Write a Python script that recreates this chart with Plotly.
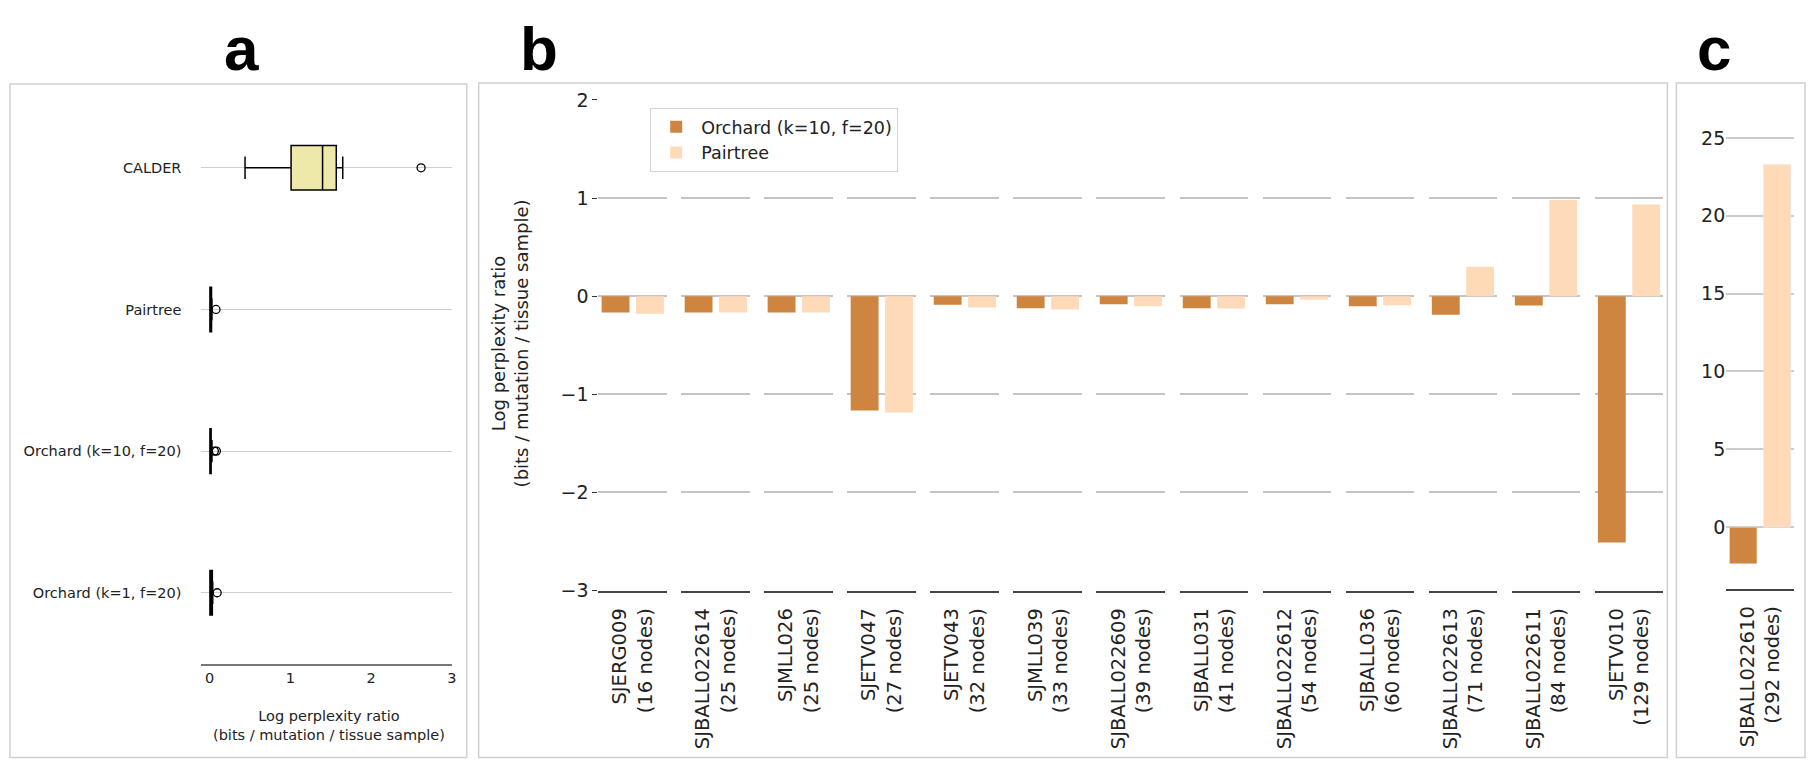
import plotly.graph_objects as go

########## DATA ##########
# panel a: box summaries of log perplexity ratio per method
a_methods = ["CALDER", "Pairtree", "Orchard (k=10, f=20)", "Orchard (k=1, f=20)"]
a_lower = [0.44, 0.005, 0.005, 0.005]
a_q1 = [1.01, 0.005, 0.005, 0.005]
a_median = [1.40, 0.01, 0.01, 0.01]
a_q3 = [1.57, 0.025, 0.02, 0.035]
a_upper = [1.65, 0.03, 0.03, 0.04]
a_outlier_method = ["CALDER", "Pairtree", "Orchard (k=10, f=20)", "Orchard (k=10, f=20)", "Orchard (k=1, f=20)"]
a_outlier_value = [2.62, 0.08, 0.06, 0.085, 0.095]

# panel b: per-sample log perplexity ratio
b_samples = ["SJERG009", "SJBALL022614", "SJMLL026", "SJETV047", "SJETV043", "SJMLL039",
             "SJBALL022609", "SJBALL031", "SJBALL022612", "SJBALL036", "SJBALL022613",
             "SJBALL022611", "SJETV010"]
b_nodes = [16, 25, 25, 27, 32, 33, 39, 41, 54, 60, 71, 84, 129]
b_orchard = [-0.167, -0.167, -0.167, -1.165, -0.088, -0.122, -0.082, -0.122, -0.082,
             -0.102, -0.19, -0.095, -2.51]
b_pairtree = [-0.178, -0.166, -0.166, -1.185, -0.114, -0.136, -0.102, -0.126, -0.037,
              -0.092, 0.30, 0.98, 0.935]

# panel c: the big sample
c_sample = "SJBALL022610"
c_nodes = 292
c_orchard = -2.35
c_pairtree = 23.3

########## LAYOUT HELPERS ##########
W, H = 1820, 769
ORCHARD_COL = "#CD853F"
PAIRTREE_COL = "#FFDAB9"
FONT = "DejaVu Sans"

def px(v):
    return v / W

def py(v):
    # target screen row -> paper fraction (the snapshot squeezes rows a little)
    f = (v - 10) / 0.972
    f = min(max(f, 0.5), H - 0.5)
    return 1 - f / H

fig = go.Figure()

########## PANEL A ##########
fig.add_trace(go.Box(
    y=a_methods, q1=a_q1, median=a_median, q3=a_q3,
    lowerfence=a_lower, upperfence=a_upper,
    orientation="h", fillcolor="#EEE8AA",
    line=dict(color="black", width=1.5), whiskerwidth=0.5,
    boxpoints=False, showlegend=False, xaxis="x", yaxis="y"))
fig.add_trace(go.Scatter(
    x=a_outlier_value, y=a_outlier_method, mode="markers",
    marker=dict(symbol="circle-open", size=8, color="black", line=dict(width=1.3)),
    showlegend=False, xaxis="x", yaxis="y"))

layout = dict(
    width=W, height=H, margin=dict(l=0, r=0, t=0, b=0),
    paper_bgcolor="white", plot_bgcolor="white",
    font=dict(family=FONT, color="#222222"),
    boxgap=0.55, bargap=0.0, bargroupgap=0.19, barmode="group",
    xaxis=dict(domain=[px(202), px(453)], range=[-0.1, 3.0], anchor="y",
               showgrid=False, zeroline=False, showline=True, linecolor="#777777",
               linewidth=2, ticks="", tickvals=[0, 1, 2, 3],
               tickfont=dict(size=14.5, color="#222222")),
    yaxis=dict(domain=[py(663), py(96)], anchor="x", type="category",
               categoryorder="array", categoryarray=a_methods[::-1],
               showgrid=True, gridcolor="#cfcfcf", gridwidth=1.2, zeroline=False,
               showline=False, ticks="", ticklabelstandoff=19,
               tickfont=dict(size=14.5, color="#222222")),
)

########## PANEL B ##########
n = len(b_samples)
for i in range(n):
    k = i + 2
    xa = "x%d" % k
    ya = "y%d" % k
    label = "%s<br>(%d nodes)" % (b_samples[i], b_nodes[i])
    fig.add_trace(go.Bar(x=[label], y=[b_orchard[i]], name="Orchard (k=10, f=20)",
                         marker=dict(color=ORCHARD_COL, line=dict(width=0)),
                         showlegend=(i == 0), xaxis=xa, yaxis=ya))
    fig.add_trace(go.Bar(x=[label], y=[b_pairtree[i]], name="Pairtree",
                         marker=dict(color=PAIRTREE_COL, line=dict(width=0)),
                         showlegend=(i == 0), xaxis=xa, yaxis=ya))
    left = 600 + 83.25 * i
    layout["xaxis%d" % k] = dict(
        domain=[px(left), px(left + 69)], anchor=ya, showgrid=False, zeroline=False,
        showline=True, linecolor="#444444", linewidth=1.5, ticks="", tickangle=-90,
        ticklabelstandoff=8, tickfont=dict(size=19.5, color="#222222"))
    layout["yaxis%d" % k] = dict(
        domain=[py(590), py(99)], anchor=xa, range=[-3, 2], dtick=1,
        showgrid=True, gridcolor="#c4c4c4", gridwidth=1.5, zeroline=False,
        showline=False, showticklabels=(i == 0),
        ticks="outside" if i == 0 else "", ticklen=5, tickcolor="#333333",
        tickfont=dict(size=19, color="#222222"))

########## PANEL C ##########
kc = n + 2
c_label = "%s<br>(%d nodes)" % (c_sample, c_nodes)
fig.add_trace(go.Bar(x=[c_label], y=[c_orchard], marker=dict(color=ORCHARD_COL),
                     showlegend=False, xaxis="x%d" % kc, yaxis="y%d" % kc))
fig.add_trace(go.Bar(x=[c_label], y=[c_pairtree], marker=dict(color=PAIRTREE_COL),
                     showlegend=False, xaxis="x%d" % kc, yaxis="y%d" % kc))
layout["xaxis%d" % kc] = dict(
    domain=[px(1731), px(1799)], anchor="y%d" % kc, showgrid=False, zeroline=False,
    showline=True, linecolor="#444444", linewidth=1.5, ticks="", tickangle=-90,
    ticklabelstandoff=8, tickfont=dict(size=19.5, color="#222222"))
layout["yaxis%d" % kc] = dict(
    domain=[py(588), py(99)], anchor="x%d" % kc, range=[-3.95, 27.44], dtick=5,
    showgrid=True, gridcolor="#cccccc", gridwidth=1.5, zeroline=False, showline=False,
    ticks="", tickfont=dict(size=19, color="#222222"))

########## LEGEND, FRAMES, LETTERS ##########
layout["legend"] = dict(x=px(652), y=py(107), xanchor="left", yanchor="top",
                        bgcolor="white", bordercolor="#d4d4d4", borderwidth=1,
                        itemwidth=40, font=dict(size=17.5, color="#222222"))

frames = [(10, 83, 468, 761), (480, 82, 1672, 761), (1681, 82, 1810, 761)]
layout["shapes"] = [dict(type="rect", xref="paper", yref="paper",
                         x0=px(f[0]), x1=px(f[2]), y0=py(f[3]), y1=py(f[1]),
                         line=dict(color="#d0d0d0", width=1.5), layer="below")
                    for f in frames]

# panel letters sit just inside the top edge so they are not clipped
letters = [("a", 242), ("b", 540), ("c", 1719)]
annos = [dict(text="<b>%s</b>" % t, x=px(x), y=1 - 1.5 / H, xref="paper", yref="paper",
              xanchor="center", yanchor="top", showarrow=False,
              font=dict(family="Liberation Sans", size=62, color="black"))
         for t, x in letters]
annos.append(dict(text="Log perplexity ratio<br>(bits / mutation / tissue sample)",
                  x=px(330), y=py(725), xref="paper", yref="paper", showarrow=False,
                  xanchor="center", yanchor="middle", font=dict(size=14.5, color="#222222")))
annos.append(dict(text="Log perplexity ratio<br>(bits / mutation / tissue sample)",
                  x=px(511), y=py(343), xref="paper", yref="paper", showarrow=False,
                  textangle=-90, xanchor="center", yanchor="middle",
                  font=dict(size=18, color="#222222")))
layout["annotations"] = annos

fig.update_layout(**layout)
# drop the default page margin so the 1820x769 figure fills the window, and hide the modebar
fig.write_html("out.html", config={"displayModeBar": False},
               post_script="document.body.style.margin = '0px';")
